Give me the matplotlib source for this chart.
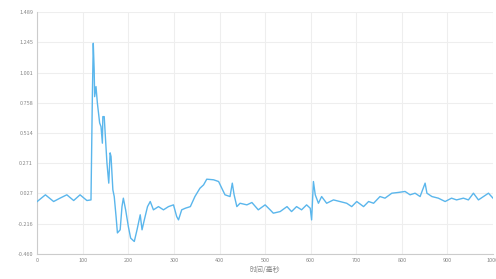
import numpy as np
import matplotlib as mpl
mpl.use("Agg")
import matplotlib.pyplot as plt

plt.rcParams["font.family"] = ["Noto Sans CJK SC", "DejaVu Sans"]

# ---- data -----------------------------------------------------------------
t_ms = [0, 18, 36, 50, 65, 80, 94, 109, 118, 121, 123, 125, 126, 129, 132,
        137, 140, 143, 144, 147, 150, 153, 157, 160, 162, 166, 169, 173, 176,
        182, 186, 189, 194, 200, 205, 213, 219, 226, 230, 235, 242, 248, 255,
        266, 277, 288, 299, 306, 310, 317, 325, 336, 346, 357, 365, 372, 387,
        398, 405, 412, 423, 428, 432, 438, 445, 460, 471, 485, 500, 511, 518,
        533, 548, 558, 569, 580, 591, 599, 602, 606, 610, 617, 624, 635, 650,
        664, 679, 690, 701, 716, 727, 738, 752, 763, 778, 792, 807, 818, 829,
        840, 851, 855, 866, 880, 895, 909, 920, 935, 946, 957, 968, 979, 990,
        1000]
signal = [-0.038, 0.016, -0.038, -0.011, 0.016, -0.03, 0.016, -0.03, -0.025,
          0.807, 1.237, 1.02, 0.807, 0.888, 0.756, 0.595, 0.565, 0.432, 0.646,
          0.646, 0.458, 0.273, 0.11, 0.354, 0.324, 0.056, 0.002, -0.159,
          -0.291, -0.266, -0.079, -0.011, -0.105, -0.24, -0.333, -0.36,
          -0.266, -0.145, -0.266, -0.186, -0.079, -0.038, -0.105, -0.079,
          -0.105, -0.079, -0.065, -0.159, -0.186, -0.105, -0.092, -0.079,
          0.002, 0.069, 0.096, 0.142, 0.137, 0.123, 0.069, 0.016, 0.002, 0.11,
          0.016, -0.079, -0.052, -0.065, -0.046, -0.105, -0.065, -0.105,
          -0.132, -0.119, -0.079, -0.119, -0.079, -0.105, -0.065, -0.092,
          -0.186, 0.123, 0.016, -0.052, 0.002, -0.052, -0.025, -0.038, -0.052,
          -0.079, -0.038, -0.079, -0.038, -0.052, 0.002, -0.011, 0.029, 0.035,
          0.043, 0.016, 0.029, 0.002, 0.11, 0.029, 0.002, -0.011, -0.038,
          -0.011, -0.025, -0.011, -0.025, 0.029, -0.025, 0.002, 0.029, -0.011]

x_ticks = [0, 100, 200, 300, 400, 500, 600, 700, 800, 900, 1000]
y_ticks = [-0.460, -0.216, 0.027, 0.271, 0.514, 0.758, 1.001, 1.245, 1.489]
y_labels = ["-0.460", "-0.216", "0.027", "0.271", "0.514", "0.758",
            "1.001", "1.245", "1.489"]
x_label = "时间/毫秒"

LINE = "#5AB6EC"
GRID = "#EEEEEE"
AX = "#CCCCCC"
TXT = "#888888"

fig = plt.figure(figsize=(4.96, 2.79), dpi=100)
ax = fig.add_axes([0.075, 0.09, 0.919, 0.867])
ax.plot(t_ms, signal, color=LINE, lw=1.0, solid_joinstyle="round", zorder=3)

ax.set_xlim(0, 1000)
ax.set_ylim(-0.460, 1.489)
ax.set_xticks(x_ticks)
ax.set_xticklabels([str(v) for v in x_ticks])
ax.set_yticks(y_ticks)
ax.set_yticklabels(y_labels)
ax.grid(True, color=GRID, lw=0.8, zorder=0)
ax.tick_params(axis="both", labelsize=4, colors=TXT, length=0, pad=3)
for s in ("top", "right"):
    ax.spines[s].set_visible(False)
for s in ("left", "bottom"):
    ax.spines[s].set_color(AX)
    ax.spines[s].set_linewidth(0.8)
ax.set_xlabel(x_label, fontsize=5, color=TXT, labelpad=2)

fig.savefig("out.png", dpi=100)
